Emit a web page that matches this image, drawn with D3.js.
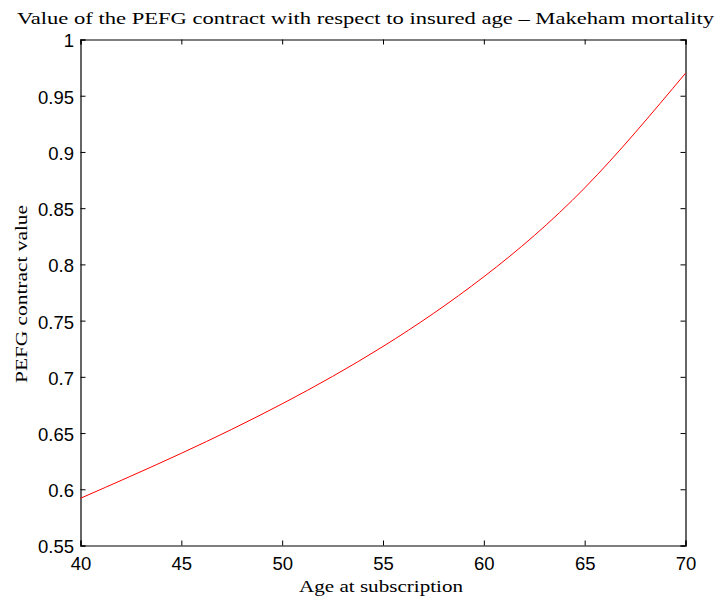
<!DOCTYPE html>
<html>
<head>
<meta charset="utf-8">
<script src="https://cdn.jsdelivr.net/npm/d3@7"></script>
<style>
  html, body { margin: 0; padding: 0; background: #fff; }
  svg { display: block; }
</style>
</head>
<body>
<svg id="chart" width="717" height="600"></svg>
<script>
// Contract value by age at subscription (Makeham mortality)
const ages = [40, 45, 50, 55, 60, 65, 70];
const values = [0.592, 0.632, 0.676, 0.727, 0.789, 0.868, 0.970];
const xTicks = [40, 45, 50, 55, 60, 65, 70];
const yTicks = [0.55, 0.6, 0.65, 0.7, 0.75, 0.8, 0.85, 0.9, 0.95, 1];

const svg = d3.select("#chart");
const margin = { left: 80.5, right: 717 - 685.5, top: 39.5, bottom: 600 - 545.5 };
const W = 717, H = 600;

const x = d3.scaleLinear().domain([40, 70]).range([margin.left, W - margin.right]);
const y = d3.scaleLinear().domain([0.55, 1]).range([H - margin.bottom, margin.top]);

const tickFont = "'Liberation Sans', Arial, Helvetica, sans-serif";
const serif = "'Liberation Serif', 'Times New Roman', serif";

// Bottom axis with labels, inward ticks
const axBottom = svg.append("g")
  .attr("transform", `translate(0,${y(0.55)})`)
  .call(d3.axisBottom(x).tickValues(xTicks).tickSize(-5).tickPadding(0)
    .tickFormat(d3.format("d")));
// Top axis mirror
const axTop = svg.append("g")
  .attr("transform", `translate(0,${y(1)})`)
  .call(d3.axisTop(x).tickValues(xTicks).tickSize(-5).tickFormat(""));
// Left axis with labels
const axLeft = svg.append("g")
  .attr("transform", `translate(${x(40)},0)`)
  .call(d3.axisLeft(y).tickValues(yTicks).tickSize(-5).tickPadding(6.5)
    .tickFormat(d => String(+d.toFixed(2))));
// Right axis mirror
const axRight = svg.append("g")
  .attr("transform", `translate(${x(70)},0)`)
  .call(d3.axisRight(y).tickValues(yTicks).tickSize(-5).tickFormat(""));

[axBottom, axTop, axLeft, axRight].forEach(g => {
  g.select(".domain").attr("stroke", "#000").attr("stroke-width", 1.2);
  g.selectAll(".tick line").attr("stroke", "#000").attr("stroke-width", 1);
  g.selectAll(".tick text").attr("fill", "#000")
    .style("font-family", tickFont).style("font-size", "18.5px");
});
axBottom.selectAll(".tick text").attr("y", 24.5).attr("dy", 0);
axLeft.selectAll(".tick text").attr("dy", "0.4em");

// Curve
const line = d3.line()
  .x((d, i) => x(ages[i]))
  .y(d => y(d))
  .curve(d3.curveNatural);

svg.append("path")
  .datum(values)
  .attr("fill", "none")
  .attr("stroke", "#ff0000")
  .attr("stroke-width", 1)
  .attr("d", line);

// Title
svg.append("text")
  .attr("x", 17).attr("y", 24)
  .attr("textLength", 697).attr("lengthAdjust", "spacingAndGlyphs")
  .style("font-family", serif).style("font-size", "17px")
  .text("Value of the PEFG contract with respect to insured age \u2013 Makeham mortality");

// Axis labels
svg.append("text")
  .attr("x", 381).attr("y", 592)
  .attr("text-anchor", "middle")
  .attr("textLength", 164).attr("lengthAdjust", "spacingAndGlyphs")
  .style("font-family", serif).style("font-size", "17px")
  .text("Age at subscription");

svg.append("text")
  .attr("transform", "translate(27,294) rotate(-90)")
  .attr("text-anchor", "middle")
  .attr("textLength", 178).attr("lengthAdjust", "spacingAndGlyphs")
  .style("font-family", serif).style("font-size", "17px")
  .text("PEFG contract value");
</script>
</body>
</html>
